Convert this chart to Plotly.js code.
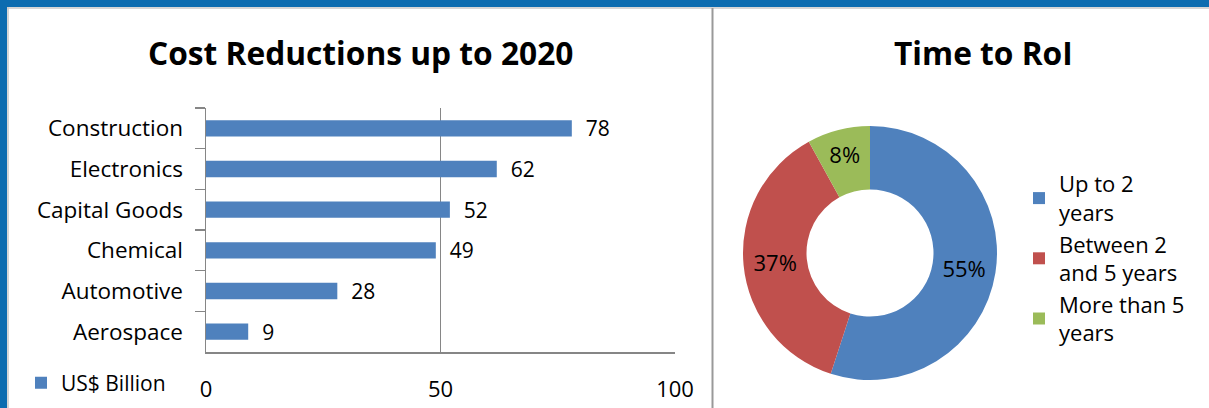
<!DOCTYPE html>
<html>
<head>
<meta charset="utf-8">
<script src="https://cdn.plot.ly/plotly-3.0.1.min.js"></script>
<style>html,body{margin:0;padding:0;background:#fff;}#chart{width:1209px;height:408px;}</style>
</head>
<body>
<div id="chart"></div>
<script>
// Bar chart data
const industries = ['Construction', 'Electronics', 'Capital Goods', 'Chemical', 'Automotive', 'Aerospace'];
const costReductions = [78, 62, 52, 49, 28, 9];
const barSeriesName = 'US$ Billion';
const xTickValues = [0, 50, 100];

// Donut chart data
const roiLabels = ['Up to 2<br>years', 'Between 2<br>and 5 years', 'More than 5<br>years'];
const roiShares = [55, 37, 8];
const roiColors = ['#4f81bd', '#c0504d', '#9bbb59'];

const W = 1209, H = 408;
const px = v => v / W;
const py = v => 1 - v / H;
const FONT = 'Open Sans, Liberation Sans, sans-serif';
const GRID = '#868686';

const barTrace = {
  type: 'bar',
  orientation: 'h',
  y: industries,
  x: costReductions,
  name: barSeriesName,
  marker: {color: '#4f81bd'},
  text: costReductions,
  texttemplate: '\u00a0\u00a0%{x}',
  textposition: 'outside',
  constraintext: 'none',
  textfont: {family: FONT, size: 21, color: '#000'},
  cliponaxis: false,
  hoverinfo: 'x+y',
  legend: 'legend',
  showlegend: true
};

const pieTrace = {
  type: 'pie',
  labels: roiLabels,
  values: roiShares,
  marker: {colors: roiColors, line: {width: 0}},
  hole: 0.5,
  sort: false,
  direction: 'clockwise',
  rotation: 0,
  textinfo: 'percent',
  textposition: 'inside',
  insidetextorientation: 'horizontal',
  textfont: {family: FONT, size: 22, color: '#000'},
  domain: {x: [px(743), px(997)], y: [py(380), py(126)]},
  legend: 'legend2',
  showlegend: true
};

const layout = {
  width: W, height: H, autosize: false,
  margin: {l: 0, r: 0, t: 0, b: 0},
  paper_bgcolor: '#fff', plot_bgcolor: '#fff',
  font: {family: FONT, size: 22, color: '#000'},
  bargap: 0.6,
  xaxis: {
    domain: [px(206), px(675)],
    range: [0, 100],
    tickvals: xTickValues,
    ticks: '',
    showgrid: true, gridcolor: GRID, gridwidth: 1.5,
    zeroline: false,
    showline: true, linecolor: GRID, linewidth: 1.5,
    ticklabelstandoff: 17,
    tickfont: {family: FONT, size: 22, color: '#000'},
    fixedrange: true
  },
  yaxis: {
    domain: [py(352), py(108)],
    autorange: 'reversed',
    type: 'category',
    tickson: 'boundaries',
    ticks: 'outside', ticklen: 10, tickwidth: 1.5, tickcolor: GRID,
    showline: true, linecolor: GRID, linewidth: 1.5,
    showgrid: false,
    ticklabelstandoff: 17,
    tickfont: {family: FONT, size: 22.5, color: '#000'},
    fixedrange: true
  },
  legend: {
    x: px(21), y: py(383), xanchor: 'left', yanchor: 'middle',
    bgcolor: 'rgba(0,0,0,0)',
    font: {family: FONT, size: 21, color: '#000'}
  },
  legend2: {
    x: px(1019), y: py(163), xanchor: 'left', yanchor: 'top',
    bgcolor: 'rgba(0,0,0,0)',
    font: {family: FONT, size: 22, color: '#000'},
    tracegroupgap: 0
  },
  annotations: [
    {text: '<b>Cost Reductions up to 2020</b>', xref: 'paper', yref: 'paper',
     x: px(360), y: py(52), xanchor: 'center', yanchor: 'middle', showarrow: false,
     font: {family: FONT, size: 31.7, color: '#000'}},
    {text: '<b>Time to RoI</b>', xref: 'paper', yref: 'paper',
     x: px(983), y: py(52), xanchor: 'center', yanchor: 'middle', showarrow: false,
     font: {family: FONT, size: 31.7, color: '#000'}}
  ],
  shapes: [
    {type: 'rect', xref: 'paper', yref: 'paper', x0: 0, x1: 1, y0: py(7), y1: 1,
     fillcolor: '#0c6cb0', line: {width: 0}, layer: 'above'},
    {type: 'rect', xref: 'paper', yref: 'paper', x0: 0, x1: px(7), y0: 0, y1: 1,
     fillcolor: '#0c6cb0', line: {width: 0}, layer: 'above'},
    {type: 'line', xref: 'paper', yref: 'paper', x0: px(7), x1: 1, y0: py(8), y1: py(8),
     line: {color: '#c8c8c8', width: 1.5}},
    {type: 'line', xref: 'paper', yref: 'paper', x0: px(8), x1: px(8), y0: 0, y1: py(7),
     line: {color: '#c8c8c8', width: 1.5}},
    {type: 'line', xref: 'paper', yref: 'paper', x0: px(712.5), x1: px(712.5), y0: 0, y1: py(8),
     line: {color: '#999999', width: 2}}
  ]
};

Plotly.newPlot('chart', [barTrace, pieTrace], layout, {displayModeBar: false, staticPlot: true});
</script>
</body>
</html>
